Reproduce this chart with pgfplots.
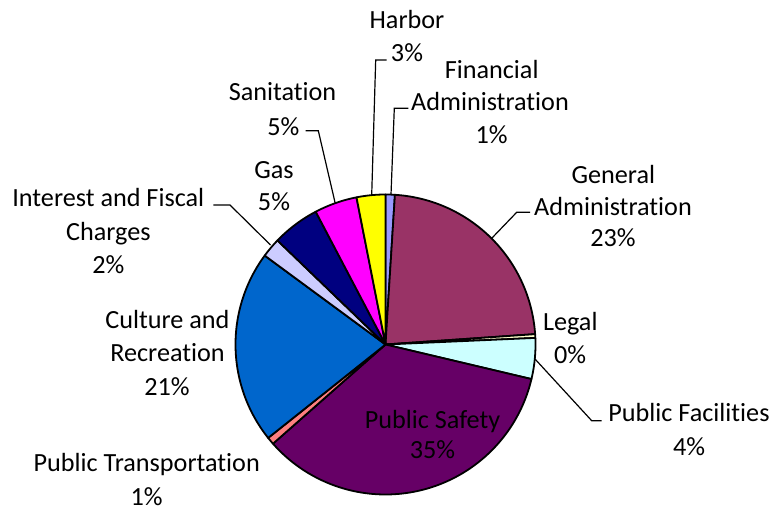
\documentclass[border=0pt]{standalone}
\usepackage{pgfplots}
\usepackage{pgfplotstable}
\pgfplotsset{compat=1.18}
\usepackage{fontspec}
\setmainfont{Carlito}[Ligatures=NoCommon]
\definecolor{cFA}{HTML}{9999FF}
\definecolor{cGA}{HTML}{993366}
\definecolor{cLE}{HTML}{FFFFCC}
\definecolor{cPF}{HTML}{CCFFFF}
\definecolor{cPS}{HTML}{660066}
\definecolor{cPT}{HTML}{FF8080}
\definecolor{cCR}{HTML}{0066CC}
\definecolor{cIF}{HTML}{CCCCFF}
\definecolor{cGS}{HTML}{000080}
\definecolor{cSA}{HTML}{FF00FF}
\definecolor{cHA}{HTML}{FFFF00}
\pgfplotstableread{
name value col
FinancialAdministration 1.0 cFA
GeneralAdministration 22.9 cGA
Legal 0.4 cLE
PublicFacilities 4.4 cPF
PublicSafety 34.8 cPS
PublicTransportation 0.8 cPT
CultureRecreation 20.8 cCR
InterestFiscal 2.1 cIF
Gas 5.1 cGS
Sanitation 4.6 cSA
Harbor 3.1 cHA
}\piedata
\newcommand{\lbl}[3]{\node[anchor=base,inner sep=0pt] at (axis cs:#1,{503.5-#2}) {#3};}
\begin{document}
\begin{tikzpicture}[every node/.style={font=\fontsize{26.2}{32}\selectfont}]
\begin{axis}[width=777pt,height=512pt,scale only axis,
  xmin=0,xmax=777,ymin=0,ymax=512,hide axis,clip=false]
\path (rel axis cs:0,0) rectangle (rel axis cs:1,1);
\def\cum{0}
\pgfplotsforeachungrouped \i in {0,...,10}{%
  \pgfplotstablegetelem{\i}{value}\of\piedata \let\val\pgfplotsretval
  \pgfplotstablegetelem{\i}{col}\of\piedata \let\col\pgfplotsretval
  \pgfmathsetmacro\angA{90-3.6*(\cum+\val)}%
  \pgfmathsetmacro\angB{90-3.6*\cum}%
  \edef\cmd{\noexpand\addplot[fill=\col,draw=black,line width=1.8pt,line join=round,domain=\angA:\angB,samples=90,variable=\noexpand\t] ({385.5+150*cos(\noexpand\t)},{167.5+150*sin(\noexpand\t)}) -- (axis cs:385.5,167.5) -- cycle;}%
  \cmd
  \pgfmathsetmacro\cum{\cum+\val}%
}
% leader lines
\draw[line width=1.2pt] (axis cs:386.7,452) -- (axis cs:375.7,452) -- (axis cs:371.7,316.9);
\draw[line width=1.2pt] (axis cs:408.3,403.7) -- (axis cs:394.3,403.7) -- (axis cs:391,317.4);
\draw[line width=1.2pt] (axis cs:305.7,381.3) -- (axis cs:318.3,381.3) -- (axis cs:335.2,308.8);
\draw[line width=1.2pt] (axis cs:213.3,307) -- (axis cs:230,307) -- (axis cs:270.5,267);
\draw[line width=1.2pt] (axis cs:530,299.7) -- (axis cs:516.7,299.7) -- (axis cs:491.6,273.6);
\draw[line width=1.2pt] (axis cs:535,153) -- (axis cs:591.7,91.3) -- (axis cs:601.7,91.3);
% labels
\lbl{407}{20}{Harbor}
\lbl{407}{53}{3\%}
\lbl{491.7}{70}{Financial}
\lbl{490}{101.7}{Administration}
\lbl{491.7}{135}{1\%}
\lbl{282.5}{91.7}{Sanitation}
\lbl{283.3}{126.7}{5\%}
\lbl{274}{170}{Gas}
\lbl{274}{202}{5\%}
\lbl{108.3}{198.3}{Interest and Fiscal}
\lbl{108.3}{231.7}{Charges}
\lbl{108.3}{265}{2\%}
\lbl{613.3}{175}{General}
\lbl{613}{206.7}{Administration}
\lbl{613}{238.3}{23\%}
\lbl{570.3}{321.7}{Legal}
\lbl{570}{355}{0\%}
\lbl{689}{413.3}{Public Facilities}
\lbl{689}{446.7}{4\%}
\lbl{167.5}{320}{Culture and}
\lbl{167.5}{353.3}{Recreation}
\lbl{167}{386.7}{21\%}
\lbl{146.7}{463.3}{Public Transportation}
\lbl{146.7}{496.7}{1\%}
\lbl{432.5}{420}{Public Safety}
\lbl{432.5}{450}{35\%}
\end{axis}
\end{tikzpicture}
\end{document}
